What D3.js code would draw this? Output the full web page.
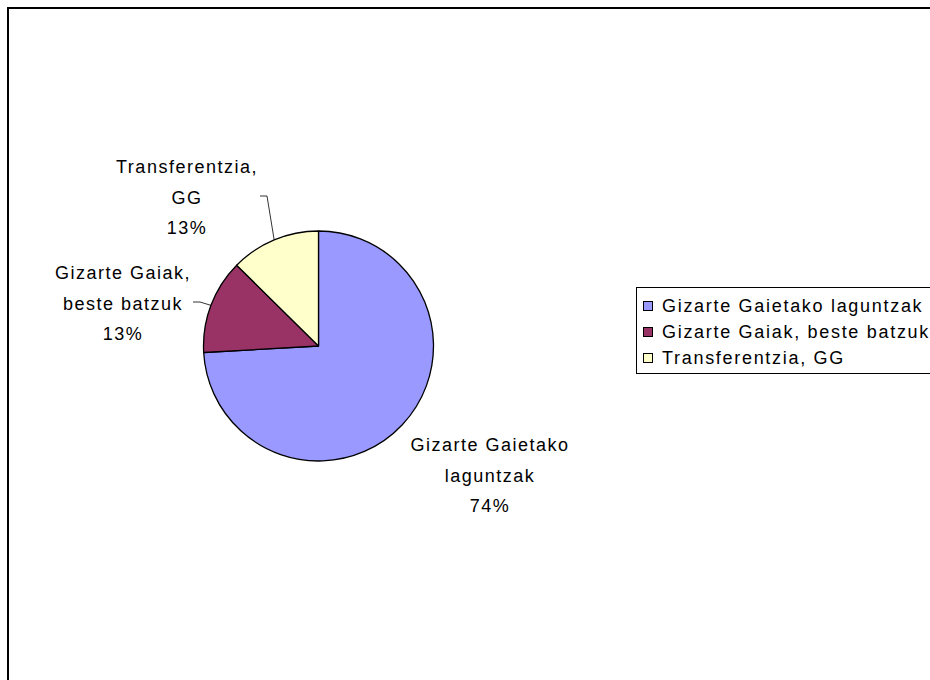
<!DOCTYPE html>
<html>
<head>
<meta charset="utf-8">
<script src="https://cdn.jsdelivr.net/npm/d3@7"></script>
<style>
  html, body { margin: 0; padding: 0; background: #fff; }
  svg { display: block; }
  text { font-family: "Liberation Sans", Arial, sans-serif; font-size: 18px; fill: #000; letter-spacing: 1.5px; }
</style>
</head>
<body>
<script>
// ---- data ----
const categories = ["Gizarte Gaietako laguntzak", "Gizarte Gaiak, beste batzuk", "Transferentzia, GG"];
const labelLines = [["Gizarte Gaietako", "laguntzak"], ["Gizarte Gaiak,", "beste batzuk"], ["Transferentzia,", "GG"]];
const values = [74.1, 13.3, 12.6];
const colors = ["#9999FF", "#993366", "#FFFFCC"];

const W = 930, H = 680;
const svg = d3.select("body").append("svg").attr("width", W).attr("height", H);

// outer chart border
svg.append("rect").attr("x", 8).attr("y", 8).attr("width", 960).attr("height", 700)
  .attr("fill", "#fff").attr("stroke", "#000").attr("stroke-width", 2);

const cx = 318.5, cy = 346, R = 115;
const total = d3.sum(values);
const pie = d3.pie().sort(null).value(d => d)(values);
const arc = d3.arc().innerRadius(0).outerRadius(R);
const g = svg.append("g").attr("transform", `translate(${cx},${cy})`);
g.selectAll("path").data(pie).join("path")
  .attr("d", arc).attr("fill", (d, i) => colors[i])
  .attr("stroke", "#000").attr("stroke-width", 1.3).attr("stroke-linejoin", "round");

// label layout (center x, first line center y)
const labelPos = [{x: 490, y: 445}, {x: 123, y: 273}, {x: 187, y: 167}];
const lineH = 30.5;
pie.forEach((d, i) => {
  const lines = labelLines[i].concat([Math.round(values[i] / total * 100) + "%"]);
  const t = svg.append("text").attr("text-anchor", "middle");
  lines.forEach((l, k) => {
    t.append("tspan").attr("x", labelPos[i].x).attr("y", labelPos[i].y + k * lineH).attr("dy", "0.35em").text(l);
  });
});

// leader lines
function edgePt(d) {
  const a = (d.startAngle + d.endAngle) / 2;
  return [cx + R * Math.sin(a), cy - R * Math.cos(a)];
}
const ln = d3.line();
{
  const e = edgePt(pie[2]);
  svg.append("path").attr("d", ln([[260, 196], [267, 196], e]))
    .attr("fill", "none").attr("stroke", "#000").attr("stroke-width", 0.8);
}
{
  const e = edgePt(pie[1]);
  svg.append("path").attr("d", ln([[193, 302], [200, 302], e]))
    .attr("fill", "none").attr("stroke", "#000").attr("stroke-width", 0.8);
}

// legend
const lg = svg.append("g");
lg.append("rect").attr("x", 636.5).attr("y", 287.5).attr("width", 320).attr("height", 86)
  .attr("fill", "#fff").attr("stroke", "#000").attr("stroke-width", 1);
const ly = d3.scalePoint().domain(categories).range([306, 358]);
categories.forEach((c, i) => {
  lg.append("rect").attr("x", 643.5).attr("y", ly(c) - 4.5).attr("width", 9).attr("height", 9)
    .attr("fill", colors[i]).attr("stroke", "#000").attr("stroke-width", 1);
  lg.append("text").attr("x", 662).attr("y", ly(c)).attr("dy", "0.35em").style("letter-spacing", "1.7px").text(c);
});
</script>
</body>
</html>
